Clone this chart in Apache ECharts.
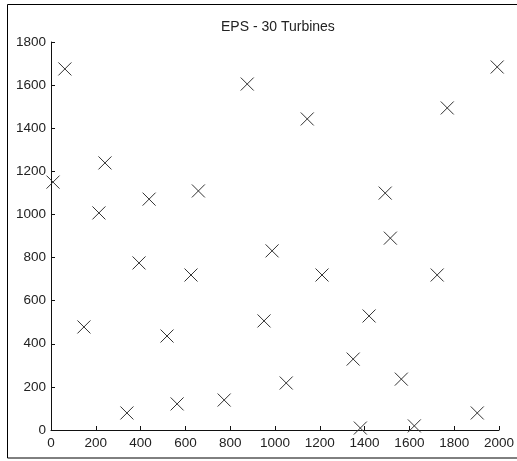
<!DOCTYPE html>
<html>
<head>
<meta charset="utf-8">
<script src="https://cdn.jsdelivr.net/npm/echarts@6/dist/echarts.min.js"></script>
<style>html,body{margin:0;padding:0;background:#fff}#c{width:517px;height:461px}</style>
</head>
<body>
<div id="c"></div>
<script>
var titleText = 'EPS - 30 Turbines';
var xValues = [9, 62, 241, 214, 438, 658, 876, 1144, 1492, 1769, 1992, 147, 393, 625, 518, 339, 563, 773, 951, 987, 1515, 1210, 1724, 1420, 1349, 1050, 1564, 1381, 1622, 1903];
var yValues = [1150, 1675, 1239, 1007, 1071, 1109, 1605, 1443, 1099, 1494, 1684, 478, 775, 719, 436, 79, 121, 139, 506, 831, 890, 719, 719, 529, 329, 218, 236, 9, 19, 79];
var xTicks = [0, 200, 400, 600, 800, 1000, 1200, 1400, 1600, 1800, 2000];
var yTicks = [0, 200, 400, 600, 800, 1000, 1200, 1400, 1600, 1800];

var points = xValues.map(function (x, i) { return [x, yValues[i]]; });
var font = 'Liberation Sans, Arial, sans-serif';
var chart = echarts.init(document.getElementById('c'), null, {renderer: 'canvas'});
chart.setOption({
  backgroundColor: '#fff',
  animation: false,
  title: {
    text: titleText,
    left: 216, top: 15,
    textStyle: {fontSize: 14, fontWeight: 'normal', color: '#222', fontFamily: font}
  },
  grid: {left: 51, right: 18, top: 42, bottom: 31, containLabel: false},
  xAxis: {
    type: 'value', min: 0, max: 2000, interval: 200,
    axisLine: {show: true, lineStyle: {color: '#111', width: 1}},
    axisTick: {show: true, inside: true, length: 4, lineStyle: {color: '#111'}},
    axisLabel: {margin: 6, fontSize: 13.5, color: '#222', fontFamily: font,
      formatter: function (v) { return xTicks.indexOf(v) >= 0 ? String(v) : ''; }},
    splitLine: {show: false}
  },
  yAxis: {
    type: 'value', min: 0, max: 1800, interval: 200,
    axisLine: {show: true, lineStyle: {color: '#111', width: 1}},
    axisTick: {show: true, inside: true, length: 4, lineStyle: {color: '#111'}},
    axisLabel: {margin: 5, fontSize: 13.5, color: '#222', fontFamily: font,
      formatter: function (v) { return yTicks.indexOf(v) >= 0 ? String(v) : ''; }},
    splitLine: {show: false}
  },
  graphic: [{
    type: 'rect', silent: true,
    shape: {x: 7.5, y: 4.5, width: 520, height: 453.5},
    style: {fill: 'none', stroke: '#000', lineWidth: 1}
  }],
  series: [{
    type: 'scatter',
    data: points,
    symbol: 'path://M0,0L10,10M10,0L0,10',
    symbolSize: 13,
    itemStyle: {color: 'rgba(0,0,0,0)', borderColor: '#333', borderWidth: 1, opacity: 1}
  }]
});
</script>
</body>
</html>
